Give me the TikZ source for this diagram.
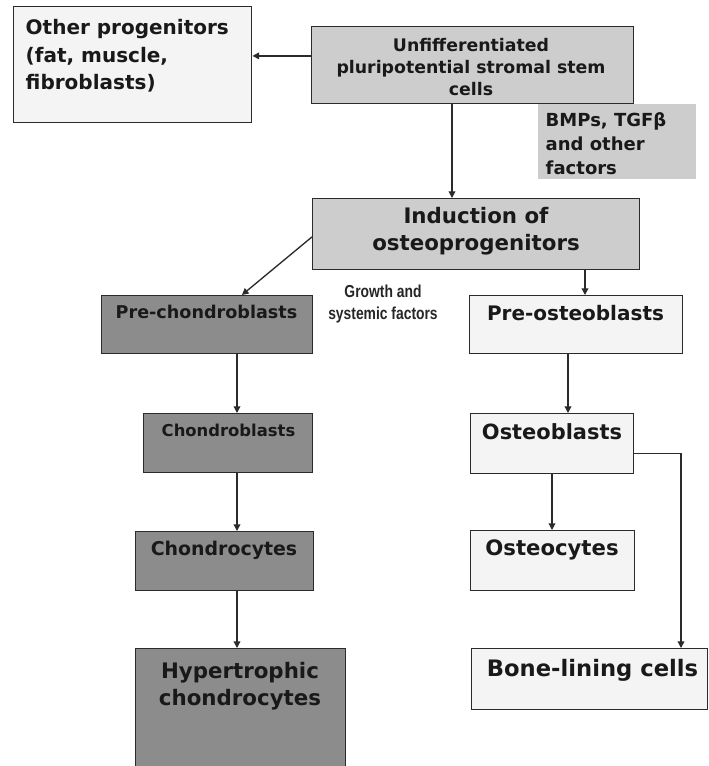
\documentclass[tikz,border=0pt]{standalone}
\usepackage{fontspec}
\setmainfont{DejaVu Sans}
\newfontfamily\narrowfont[FakeStretch=0.8]{Liberation Sans}
\usetikzlibrary{arrows.meta, positioning, calc}
\definecolor{cdark}{HTML}{8C8C8C}
\definecolor{clight}{HTML}{CDCDCD}
\definecolor{cpale}{HTML}{F4F4F4}
\definecolor{cline}{HTML}{2B2B2B}
\tikzset{
  every picture/.style={line width=1.1pt},
  cell/.style={draw=cline, fill=#1, anchor=north west, inner sep=0pt},
  cell/.default=cpale,
  sz/.style 2 args={minimum width=#1*0.75pt, minimum height=#2*0.75pt},
  lbl/.style 2 args={font=\bfseries\fontsize{#1}{#2}\selectfont, text=black!90, align=center, inner sep=0pt},
  arrow/.style={-{Triangle[length=5pt, width=5pt]}, draw=cline, line width=1pt},
  note/.style={font=\narrowfont\bfseries\fontsize{13}{16}\selectfont, text=black!85, align=center, inner sep=0pt},
}

\begin{document}
\begin{tikzpicture}[x=0.75pt, y=-0.75pt]
  \useasboundingbox[fill=white] (0,0) rectangle (708,766);
  % lanes for the vertical arrows
  \coordinate (lus) at (452,0);
  \coordinate (lpo) at (585,0);
  \coordinate (lob) at (568,0);
  \coordinate (loc) at (552,0);
  \coordinate (lbone) at (681,0);
  \coordinate (lch) at (237,0);

  \node[cell, sz={238}{116}] (op) at (13,6) {};
  \node[lbl={15}{20.5}, align=left, anchor=west] (op-t) at (25,56) {Other progenitors\\(fat, muscle,\\fibroblasts)};

  \node[cell=clight, draw=none, sz={158}{75}] (bmp) at (537,103) {};
  \node[lbl={13.5}{18}, align=left, anchor=west] (bmp-t) at (545,144) {BMPs, TGFβ\\and other\\factors};

  \node[cell=clight, sz={322}{77}] (us) at (311,26) {};
  \node[lbl={13}{16.5}] (us-t) at (471,67) {Unfifferentiated\\pluripotential stromal stem\\cells};

  \node[cell=clight, sz={327}{71}] (ind) at (312,198) {};
  \node[lbl={16}{20}] (ind-t) at (476,231.5) {Induction of\\osteoprogenitors};

  \node[note] (grow) at (383,304) {Growth and\\systemic factors};

  % chondrocyte line
  \node[cell=cdark, sz={211}{58}] (pc) at (101,295) {};
  \node[lbl={13.2}{16}] (pc-t) at (206.5,312) {Pre-chondroblasts};
  \node[cell=cdark, sz={169}{59}] (cb) at (143,413) {};
  \node[lbl={12.3}{15}] (cb-t) at (228.5,430) {Chondroblasts};
  \node[cell=cdark, sz={178}{59}] (cc) at (135,531) {};
  \node[lbl={14.2}{17}] (cc-t) at (224,550) {Chondrocytes};
  \node[cell=cdark, sz={210}{125}] (hy) at (135,648) {};
  \node[lbl={16}{20}] (hy-t) at (240,686.5) {Hypertrophic\\chondrocytes};

  % osteoblast line
  \node[cell, sz={213}{58}] (po) at (469,295) {};
  \node[lbl={15}{18}] (po-t) at (575.5,313) {Pre-osteoblasts};
  \node[cell, sz={163}{60}] (ob) at (470,413) {};
  \node[lbl={15.7}{19}] (ob-t) at (552,432) {Osteoblasts};
  \node[cell, sz={164}{60}] (oc) at (470,530) {};
  \node[lbl={15.9}{19}] (oc-t) at (552,550) {Osteocytes};
  \node[cell, sz={236}{61}] (bl) at (471,648) {};
  \node[lbl={17}{20}] (bl-t) at (592.5,670) {Bone-lining cells};

  \draw[arrow] ([yshift=7pt]us.west) -- ([yshift=7pt]us.west -| op.east);
  \draw[arrow] (us.south -| lus) -- (ind.north -| lus);
  \draw[arrow] ([yshift=-2pt]ind.west) -- ([xshift=26pt]pc.north);
  \draw[arrow] (ind.south -| lpo) -- (po.north -| lpo);
  \draw[arrow] (po.south -| lob) -- (ob.north -| lob);
  \draw[arrow] (ob.south -| loc) -- (oc.north -| loc);
  \draw[arrow] ([yshift=-7.5pt]ob.east) -| (bl.north -| lbone);
  \draw[arrow] (pc.south -| lch) -- (cb.north -| lch);
  \draw[arrow] (cb.south -| lch) -- (cc.north -| lch);
  \draw[arrow] (cc.south -| lch) -- (hy.north -| lch);
\end{tikzpicture}
\end{document}
